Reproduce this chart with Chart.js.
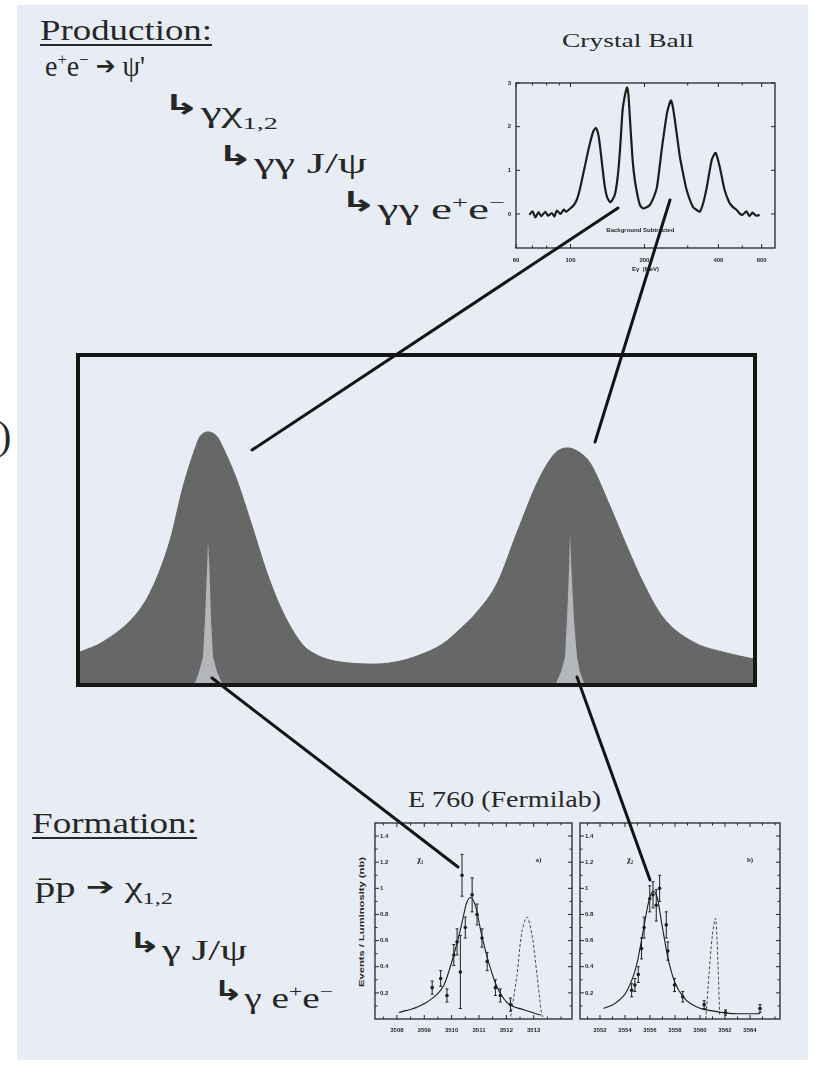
<!DOCTYPE html>
<html>
<head>
<meta charset="utf-8">
<script src="https://cdn.jsdelivr.net/npm/chart.js@4.4.1/dist/chart.umd.min.js"></script>
<style>
  html, body { margin: 0; padding: 0; background: #fff; }
  body { width: 814px; height: 1066px; position: relative; overflow: hidden;
         font-family: "Liberation Serif", "Times New Roman", serif; color: #272727; }
  #slide { position: absolute; left: 17px; top: 5px; width: 791px; height: 1055px; background: #e8edf5; }
  .t { position: absolute; white-space: nowrap; line-height: 1; transform-origin: 0 0; }
  .t sup, .t sub { font-size: 0.6em; line-height: 0; }
  .u { text-decoration: underline; text-decoration-thickness: 2px; text-underline-offset: 4px; }
  .ar { font-family: "DejaVu Sans", sans-serif; font-weight: bold; font-size: 0.95em; position: relative; top: -0.3em; }
  .to { font-family: "DejaVu Sans", sans-serif; font-size: 0.85em; position: relative; top: -0.08em; }
  #mainBox { position: absolute; left: 76px; top: 353px; width: 673px; height: 326px; border: 4px solid #161616; }
  canvas { position: absolute; }
  #links { position: absolute; left: 0; top: 0; }
</style>
</head>
<body>
<div id="slide"></div>

<div class="t" style="left:-2px;top:416px;font-size:40px">)</div>

<div class="t u fit" data-w="172" style="left:40px;top:16px;font-size:29px">Production:</div>
<div class="t fit" data-w="100" style="left:45px;top:52px;font-size:29px">e<sup>+</sup>e<sup>&minus;</sup> <span class="to">&#x2794;</span> &psi;'</div>
<div class="t fit" data-w="115" style="left:163px;top:98px;font-size:29px"><span class="ar">&#8627;</span>&gamma;&chi;<sub>1,2</sub></div>
<div class="t fit" data-w="150" style="left:217px;top:149px;font-size:29px"><span class="ar">&#8627;</span>&gamma;&gamma; J/&psi;</div>
<div class="t fit" data-w="165" style="left:340px;top:195px;font-size:29px"><span class="ar">&#8627;</span>&gamma;&gamma; e<sup>+</sup>e<sup>&minus;</sup></div>

<div class="t u fit" data-w="165" style="left:32px;top:809px;font-size:29px">Formation:</div>
<div class="t fit" data-w="138" style="left:35px;top:873px;font-size:29px">p&#772;p <span class="to">&#x2794;</span> &chi;<sub>1,2</sub></div>
<div class="t fit" data-w="119" style="left:128px;top:936px;font-size:29px"><span class="ar">&#8627;</span>&gamma; J/&psi;</div>
<div class="t fit" data-w="120" style="left:213px;top:984px;font-size:29px"><span class="ar">&#8627;</span>&gamma; e<sup>+</sup>e<sup>&minus;</sup></div>

<div class="t fit" data-w="132" style="left:562px;top:31px;font-size:19px">Crystal Ball</div>
<div class="t fit" data-w="193" style="left:408px;top:787px;font-size:24px">E 760 (Fermilab)</div>
<div class="t fit" data-w="130" data-rot="-90" style="left:358px;top:987px;font:bold 7px 'Liberation Sans',sans-serif">Events / Luminosity (nb)</div>

<div id="mainBox"><canvas id="mainChart" width="673" height="326" style="left:0;top:0"></canvas></div>
<canvas id="cbChart" width="310" height="230" style="left:490px;top:60px"></canvas>
<canvas id="chi1Chart" width="226" height="230" style="left:350px;top:815px"></canvas>
<canvas id="chi2Chart" width="224" height="230" style="left:576px;top:815px"></canvas>

<svg id="links" width="814" height="1066">
  <g stroke="#141414" stroke-width="3" stroke-linecap="round">
    <line x1="618" y1="208" x2="252" y2="450"/>
    <line x1="670" y1="200" x2="595" y2="442"/>
    <line x1="212" y1="678" x2="458" y2="867"/>
    <line x1="577" y1="677" x2="650" y2="880"/>
  </g>
</svg>

<script>
// big schematic: broad (production) lines and narrow (formation) lines
const mainX = [0, 3.4, 8.5, 10.8, 13.4, 15.3, 17.4, 17.8, 19.0, 20.4, 21.2, 23.3, 25.6, 27.8, 30.2, 33.1, 34.9, 37.1, 40.1, 43.8, 47.5, 50.5, 53.9, 56.5, 59.0, 62.0, 64.9, 67.9, 69.8, 71.0, 72.5, 74.3, 75.8, 78.8, 81.3, 83.7, 86.6, 91.1, 96.1, 100];
const mainY = [9.5, 12.6, 21.5, 29.4, 43.9, 60.1, 73.6, 75.5, 77.0, 75.5, 72.4, 62.3, 47.9, 33.7, 21.5, 11.7, 8.9, 7.1, 6.1, 5.8, 6.7, 8.6, 12.0, 16.6, 21.8, 30.7, 46.0, 61.3, 68.4, 71.2, 72.1, 70.6, 67.5, 54.0, 41.7, 30.7, 20.2, 12.6, 9.2, 7.4];
const spikeLX = [17.09, 17.68, 18.28, 18.57, 18.87, 19.02, 19.24, 19.47, 19.76, 20.36, 21.10];
const spikeLY = [0, 3.4, 8.0, 19.3, 34.7, 43.9, 34.7, 19.3, 8.0, 3.4, 0];
const spikeRX = [70.73, 71.47, 72.07, 72.36, 72.66, 72.81, 73.03, 73.40, 73.85, 74.29, 74.89];
const spikeRY = [0, 3.4, 8.0, 19.3, 34.7, 46.0, 34.7, 19.3, 8.0, 3.4, 0];

// Crystal Ball inclusive photon spectrum (E_gamma in MeV, background subtracted)
const cbEnergy = [68, 70, 72, 74, 76, 79, 81, 84, 86, 88, 91, 94, 96, 99.5, 103, 106, 109, 112, 116, 120, 124, 127, 130, 132, 135, 138, 141, 145, 148, 152, 156, 159, 163, 167, 170, 172, 174, 179, 183, 188, 192, 197, 203, 210, 217, 225, 235, 247, 252, 256, 260, 266, 279, 288, 297, 315, 325, 336, 347, 359, 376, 390, 405, 424, 444, 460, 475, 490, 502, 520, 535, 551, 570, 589];
const cbCounts = [-0.02, 0.06, -0.08, 0.04, -0.05, 0.05, -0.04, 0.02, -0.06, 0.08, 0.0, 0.1, 0.05, 0.12, 0.2, 0.32, 0.55, 0.85, 1.25, 1.62, 1.9, 1.97, 1.8, 1.53, 1.05, 0.62, 0.38, 0.27, 0.32, 0.47, 0.9, 1.46, 2.38, 2.75, 2.9, 2.75, 2.31, 1.24, 0.75, 0.39, 0.2, 0.13, 0.15, 0.2, 0.35, 0.62, 1.46, 2.31, 2.5, 2.6, 2.5, 2.15, 1.3, 0.9, 0.55, 0.16, 0.1, 0.05, 0.25, 0.62, 1.24, 1.4, 1.08, 0.55, 0.25, 0.15, 0.09, 0.0, -0.02, 0.06, -0.05, 0.03, -0.04, -0.02];
const cbXTicks = [60, 100, 200, 400, 600];
const cbXMinor = [70, 80, 90, 300, 500];
const cbYTicks = [0, 1, 2, 3];

// E760 chi_1 scan
const chi1FitE = [3508.07, 3508.73, 3509.24, 3509.72, 3510.01, 3510.34, 3510.55, 3510.70, 3510.88, 3511.10, 3511.36, 3511.65, 3512.01, 3512.64, 3513.26];
const chi1FitY = [0.05, 0.09, 0.15, 0.26, 0.44, 0.70, 0.89, 0.93, 0.86, 0.64, 0.43, 0.25, 0.13, 0.07, 0.03];
const chi1BeamE = [3512.16, 3512.39, 3512.57, 3512.76, 3512.94, 3513.12, 3513.30, 3513.40];
const chi1BeamY = [0.02, 0.34, 0.67, 0.78, 0.64, 0.34, 0.03, 0.0];
const chi1DataE = [3509.29, 3509.6, 3509.83, 3510.08, 3510.2, 3510.32, 3510.38, 3510.5, 3510.75, 3510.93, 3511.11, 3511.3, 3511.6, 3511.78, 3512.15];
const chi1DataY = [0.24, 0.31, 0.18, 0.49, 0.59, 0.36, 1.1, 0.70, 0.95, 0.80, 0.62, 0.44, 0.24, 0.18, 0.11];
const chi1DataErr = [0.05, 0.06, 0.05, 0.08, 0.10, 0.28, 0.16, 0.08, 0.13, 0.08, 0.07, 0.07, 0.06, 0.05, 0.05];
const chi1XTicks = [3508, 3509, 3510, 3511, 3512, 3513];
const chi1XMinor = [3507.5, 3508.5, 3509.5, 3510.5, 3511.5, 3512.5, 3513.5, 3514];

// E760 chi_2 scan
const chi2FitE = [3552.29, 3553.21, 3554.13, 3554.92, 3555.45, 3555.9, 3556.24, 3556.58, 3556.96, 3557.43, 3557.95, 3558.74, 3559.8, 3561.11, 3562.96, 3564.8];
const chi2FitY = [0.08, 0.12, 0.21, 0.41, 0.67, 0.90, 0.98, 0.93, 0.72, 0.47, 0.29, 0.16, 0.09, 0.06, 0.04, 0.04];
const chi2BeamE = [3560.46, 3560.72, 3560.99, 3561.25, 3561.44, 3561.57];
const chi2BeamY = [0.0, 0.34, 0.64, 0.77, 0.41, 0.03];
const chi2DataE = [3554.53, 3554.79, 3555.06, 3555.32, 3555.53, 3555.98, 3556.24, 3556.5, 3556.77, 3557.3, 3557.43, 3557.96, 3558.62, 3560.33, 3562.04, 3564.8];
const chi2DataY = [0.22, 0.26, 0.34, 0.54, 0.70, 0.92, 0.95, 0.87, 1.0, 0.72, 0.52, 0.26, 0.17, 0.11, 0.05, 0.08];
const chi2DataErr = [0.05, 0.05, 0.06, 0.08, 0.08, 0.10, 0.10, 0.12, 0.10, 0.10, 0.07, 0.05, 0.04, 0.03, 0.02, 0.03];
const chi2XTicks = [3552, 3554, 3556, 3558, 3560, 3562, 3564];
const chi2XMinor = [3551, 3553, 3555, 3557, 3559, 3561, 3563, 3565, 3566];

const e760YTicks = [0.2, 0.4, 0.6, 0.8, 1, 1.2, 1.4];
const e760YMinor = [0.1, 0.3, 0.5, 0.7, 0.9, 1.1, 1.3];

const pts = (xs, ys) => xs.map((x, i) => ({ x: x, y: ys[i] }));
const ink = '#262626';

// frame, inward ticks and tick labels, drawn from the chart's own scales
function axesPlugin(o) {
  return {
    id: 'axes' + o.name,
    afterDatasetsDraw(chart) {
      const ctx = chart.ctx, a = chart.chartArea;
      const sx = chart.scales.x, sy = chart.scales.y;
      ctx.save();
      ctx.strokeStyle = ink;
      ctx.lineWidth = o.frameWidth;
      ctx.strokeRect(a.left, a.top, a.right - a.left, a.bottom - a.top);
      ctx.lineWidth = 1;
      ctx.beginPath();
      const xt = (list, len) => list.forEach(v => {
        const p = sx.getPixelForValue(v);
        ctx.moveTo(p, a.bottom); ctx.lineTo(p, a.bottom - len);
        ctx.moveTo(p, a.top); ctx.lineTo(p, a.top + len);
      });
      const yt = (list, len) => list.forEach(v => {
        const p = sy.getPixelForValue(v);
        ctx.moveTo(a.left, p); ctx.lineTo(a.left + len, p);
        ctx.moveTo(a.right, p); ctx.lineTo(a.right - len, p);
      });
      xt(o.xMajor, 4); xt(o.xMinor, 2.5);
      yt(o.yMajor, 4); yt(o.yMinor, 2.5);
      ctx.stroke();

      ctx.fillStyle = ink;
      ctx.font = 'bold 6px "Liberation Sans", Arial, sans-serif';
      ctx.textAlign = 'center';
      ctx.textBaseline = 'top';
      o.xMajor.forEach(v => ctx.fillText(String(v), sx.getPixelForValue(v), a.bottom + o.xGap));
      ctx.textBaseline = 'middle';
      if (o.yInside) {
        ctx.textAlign = 'left';
        o.yMajor.forEach(v => ctx.fillText(String(v), a.left + 5, sy.getPixelForValue(v)));
      } else {
        ctx.textAlign = 'right';
        o.yMajor.forEach(v => ctx.fillText(String(v), a.left - 5, sy.getPixelForValue(v)));
      }
      (o.notes || []).forEach(n => {
        ctx.font = n.font;
        ctx.textAlign = 'center';
        ctx.fillText(n.text, a.left + n.fx * (a.right - a.left), a.top + n.fy * (a.bottom - a.top));
      });
      ctx.restore();
    }
  };
}

const errorBars = {
  id: 'errorBars',
  afterDatasetsDraw(chart) {
    const ctx = chart.ctx, sx = chart.scales.x, sy = chart.scales.y;
    chart.data.datasets.forEach(ds => {
      if (!ds.errors) return;
      ctx.save();
      ctx.strokeStyle = '#1e1e1e';
      ctx.lineWidth = 1;
      ds.data.forEach((p, i) => {
        const px = sx.getPixelForValue(p.x);
        const t = sy.getPixelForValue(p.y + ds.errors[i]);
        const b = sy.getPixelForValue(p.y - ds.errors[i]);
        ctx.beginPath();
        ctx.moveTo(px, t); ctx.lineTo(px, b);
        ctx.moveTo(px - 1.5, t); ctx.lineTo(px + 1.5, t);
        ctx.moveTo(px - 1.5, b); ctx.lineTo(px + 1.5, b);
        ctx.stroke();
      });
      ctx.restore();
    });
  }
};

const base = {
  responsive: false,
  animation: false,
  events: [],
  plugins: { legend: { display: false }, tooltip: { enabled: false } },
  elements: { point: { radius: 0 } }
};

new Chart(document.getElementById('mainChart'), {
  type: 'line',
  data: {
    datasets: [
      { data: pts(spikeLX, spikeLY), fill: 'origin', backgroundColor: '#b3b6ba', borderWidth: 0, tension: 0 },
      { data: pts(spikeRX, spikeRY), fill: 'origin', backgroundColor: '#b3b6ba', borderWidth: 0, tension: 0 },
      { data: pts(mainX, mainY), fill: 'origin', backgroundColor: '#676767', borderColor: '#646464', borderWidth: 1, cubicInterpolationMode: 'monotone' }
    ]
  },
  options: Object.assign({}, base, {
    layout: { padding: 0 },
    scales: {
      x: { type: 'linear', min: 0, max: 100, display: false },
      y: { min: 0, max: 100, display: false }
    }
  })
});

new Chart(document.getElementById('cbChart'), {
  type: 'line',
  data: {
    datasets: [
      { data: pts(cbEnergy, cbCounts), borderColor: '#1d1d1d', borderWidth: 2.2, tension: 0.2, fill: false }
    ]
  },
  options: Object.assign({}, base, {
    layout: { padding: { left: 26, top: 23, right: 25, bottom: 42 } },
    scales: {
      x: { type: 'logarithmic', min: 60, max: 680, display: false },
      y: { min: -0.78, max: 3.0, display: false }
    }
  }),
  plugins: [axesPlugin({
    name: 'cb', frameWidth: 1.3, xMajor: cbXTicks, xMinor: cbXMinor, yMajor: cbYTicks, yMinor: [],
    xGap: 9, yInside: false,
    notes: [
      { text: 'Background Subtracted', fx: 0.48, fy: 0.89, font: 'bold 6px "Liberation Sans", sans-serif' },
      { text: 'E\u03b3  (MeV)', fx: 0.5, fy: 1.13, font: 'bold 6px "Liberation Sans", sans-serif' }
    ]
  })]
});

function e760Chart(id, fitE, fitY, beamE, beamY, dataE, dataY, dataErr, xmin, xmax, xTicks, xMinor, pad, notes) {
  new Chart(document.getElementById(id), {
    type: 'line',
    data: {
      datasets: [
        { data: pts(fitE, fitY), borderColor: '#1d1d1d', borderWidth: 1.1, cubicInterpolationMode: 'monotone', fill: false },
        { data: pts(beamE, beamY), borderColor: '#4a4a4a', borderWidth: 1, borderDash: [3, 2], tension: 0.3, fill: false },
        { data: pts(dataE, dataY), errors: dataErr, showLine: false, pointRadius: 1.8, pointBackgroundColor: '#1d1d1d', pointBorderWidth: 0 }
      ]
    },
    options: Object.assign({}, base, {
      layout: { padding: pad },
      scales: {
        x: { type: 'linear', min: xmin, max: xmax, display: false },
        y: { min: 0, max: 1.5, display: false }
      }
    }),
    plugins: [errorBars, axesPlugin({
      name: id, frameWidth: 1.3, xMajor: xTicks, xMinor: xMinor, yMajor: e760YTicks, yMinor: e760YMinor,
      xGap: 8, yInside: true, notes: notes
    })]
  });
}

e760Chart('chi1Chart', chi1FitE, chi1FitY, chi1BeamE, chi1BeamY, chi1DataE, chi1DataY, chi1DataErr,
  3507.2, 3514.4, chi1XTicks, chi1XMinor, { left: 25, right: 3, top: 8, bottom: 26 },
  [{ text: '\u03c7\u2081', fx: 0.23, fy: 0.19, font: 'bold 8px "Liberation Serif", serif' },
   { text: 'a)', fx: 0.83, fy: 0.19, font: 'bold 7px "Liberation Serif", serif' }]);

e760Chart('chi2Chart', chi2FitE, chi2FitY, chi2BeamE, chi2BeamY, chi2DataE, chi2DataY, chi2DataErr,
  3550.4, 3566.4, chi2XTicks, chi2XMinor, { left: 2, right: 20, top: 8, bottom: 26 },
  [{ text: '\u03c7\u2082', fx: 0.25, fy: 0.19, font: 'bold 8px "Liberation Serif", serif' },
   { text: 'b)', fx: 0.85, fy: 0.19, font: 'bold 7px "Liberation Serif", serif' }]);

// stretch the labels to the widths they have in the picture
document.querySelectorAll('.fit').forEach(el => {
  const w = el.getBoundingClientRect().width;
  const s = el.dataset.w / w;
  const rot = el.dataset.rot ? 'rotate(' + el.dataset.rot + 'deg) ' : '';
  el.style.transform = rot + 'scaleX(' + s + ')';
});
</script>
</body>
</html>
